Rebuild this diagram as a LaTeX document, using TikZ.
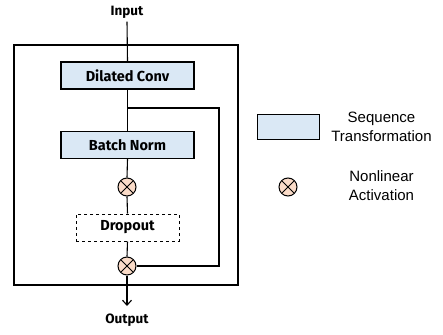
\documentclass[tikz,border=0pt]{standalone}
\usepackage{fontspec}
\setmainfont{Liberation Sans}
\newfontfamily\labfont{Fira Sans}
\usetikzlibrary{arrows.meta}
\definecolor{boxblue}{HTML}{DAE8F5}
\definecolor{peach}{HTML}{FADBC8}
\tikzset{
  blk/.style={draw, line width=1.1pt, fill=boxblue, minimum width=133pt, minimum height=27pt, inner sep=0pt, font=\labfont\bfseries\fontsize{14.5}{16}\selectfont},
  dropbox/.style={draw, dashed, line width=1pt, minimum width=103pt, minimum height=27pt, inner sep=0pt, font=\labfont\bfseries\fontsize{14.5}{16}\selectfont},
  act/.style={draw, circle, line width=1pt, fill=peach, minimum size=18pt, inner sep=0pt, path picture={
      \draw[line width=1pt] (path picture bounding box.south west) ++(3.2pt,3.2pt) -- ++(11.6pt,11.6pt);
      \draw[line width=1pt] (path picture bounding box.north west) ++(3.2pt,-3.2pt) -- ++(11.6pt,-11.6pt);}},
  conn/.style={line width=1.1pt},
  io/.style={font=\labfont\bfseries\fontsize{13.5}{15}\selectfont},
  leg/.style={align=center, font=\fontsize{15}{19}\selectfont}
}
\begin{document}
\begin{tikzpicture}[x=1pt,y=-1pt]
\useasboundingbox (0,0) rectangle (443,334);
\draw[line width=1.6pt] (14,45) rectangle (238,285);
\node[io] (in) at (127,12) {Input};
\node[blk] (dc) at (127.5,75.5) {Dilated Conv};
\node[blk] (bn) at (127.5,145) {Batch Norm};
\node[act] (a1) at (127,187) {};
\node[dropbox] (dr) at (127.5,227.5) {Dropout};
\node[act] (a2) at (127,266) {};
\node[io] (out) at (127,320) {Output};
\coordinate (br) at (127,108);
\coordinate (out1) at (127,306);
\coordinate (rt) at (219,108);
\draw[conn] (in.south) -- (dc.north);
\draw[conn] (dc.south) -- (bn.north);
\draw[conn] (bn.south) -- (a1.north);
\draw[conn] (a1.south) -- (dr.north);
\draw[conn] (dr.south) -- (a2.north);
\draw[conn] (br) -- (rt) |- (a2.east);
\draw[conn, -{Straight Barb[length=5pt,width=9pt]}] (a2.south) -- (out1);
% legend
\node[draw, line width=1pt, fill=boxblue, minimum width=62pt, minimum height=25pt, inner sep=0pt] (lr) at (288,127) {};
\node[leg] (lt) at (381.5,127) {Sequence\\Transformation};
\node[act] (lc) at (288,187) {};
\node[leg] (lt2) at (381.5,186) {Nonlinear\\Activation};
\end{tikzpicture}
\end{document}
